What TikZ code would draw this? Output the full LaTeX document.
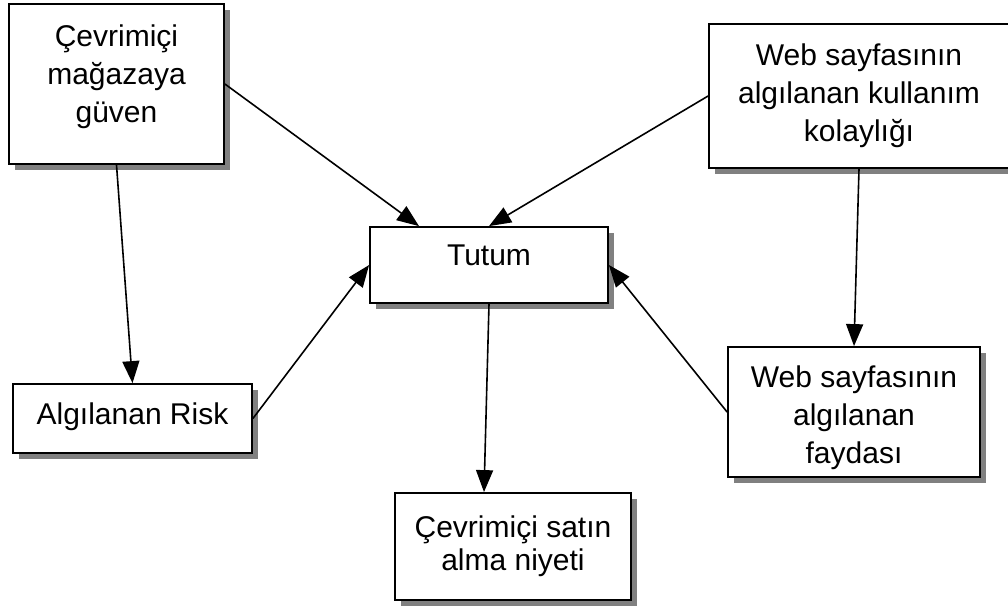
\documentclass[tikz,border=0pt]{standalone}
\usepackage{fontspec}
\setmainfont{Liberation Sans}
\usetikzlibrary{arrows.meta,shadows}

\tikzset{
  concept/.style={draw, line width=1.8pt, fill=white, align=center, inner sep=0pt,
    font=\fontsize{30}{38}\selectfont,
    drop shadow={shadow xshift=6pt, shadow yshift=-6pt, fill=gray, opacity=1}},
  link/.style={line width=1.6pt, -{Triangle[length=22pt,width=17pt]}}
}

\begin{document}
\begin{tikzpicture}[x=1pt, y=-1pt]
            \useasboundingbox (0,0) rectangle (1008,606);

            % Define boxes
            \node[concept, minimum width=215pt, minimum height=160pt, text depth=20pt] (trust) at (116.5,84) {Çevrimiçi\\mağazaya\\güven};
            \node[concept, minimum width=300pt, minimum height=144pt] (ease) at (859,96) {Web sayfasının\\algılanan kullanım\\kolaylığı};
            \node[concept, minimum width=238pt, minimum height=76pt, text depth=20pt] (tutum) at (489,265) {Tutum};
            \node[concept, minimum width=239pt, minimum height=69pt, text depth=10pt] (risk) at (132.5,418.5) {Algılanan Risk};
            \node[concept, minimum width=252pt, minimum height=130pt, text height=110pt] (useful) at (854,412) {Web sayfasının\\algılanan\\faydası};
            \node[concept, minimum width=236pt, minimum height=107pt, font=\fontsize{30}{33}\selectfont] (intent) at (513,546.5) {Çevrimiçi satın\\alma niyeti};

            % Draw arrows
            \draw[link] (trust.east) -- ([xshift=-70pt]tutum.north);
            \draw[link] (ease.west) -- (tutum.north);
            \draw[link] (risk.east) -- (tutum.west);
            \draw[link] (useful.west) -- (tutum.east);
            \draw[link] (trust.south) -- (risk.north);
            \draw[link] (ease.south) -- (useful.north);
            \draw[link] (tutum.south) -- ([xshift=-29pt]intent.north);
        \end{tikzpicture}
\end{document}
